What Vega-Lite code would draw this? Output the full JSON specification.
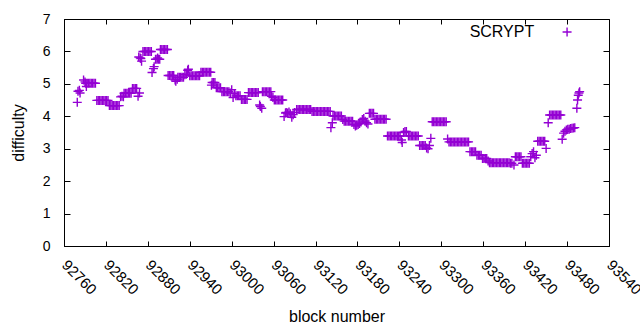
{
  "$schema": "https://vega.github.io/schema/vega-lite/v6.json",
  "width": 545,
  "height": 227,
  "autosize": {"type": "none"},
  "padding": {"left": 64, "top": 19, "right": 31, "bottom": 84},
  "background": "white",
  "config": {
    "view": {"stroke": "black", "strokeWidth": 1},
    "font": "Liberation Sans",
    "axis": {
      "domainColor": "black", "tickColor": "black", "labelColor": "black", "titleColor": "black",
      "grid": false, "labelFont": "Liberation Sans", "titleFont": "Liberation Sans",
      "titleFontWeight": "normal", "labelFontSize": 14, "titleFontSize": 16,
      "labelOverlap": false, "labelFlush": false, "labelBound": false
    }
  },
  "datasets": {
    "scrypt": [
      {"block":92779,"difficulty":4.43},{"block":92780,"difficulty":4.77},{"block":92782,"difficulty":4.8},{"block":92783,"difficulty":4.72},
      {"block":92788,"difficulty":5.12},{"block":92790,"difficulty":5.06},{"block":92792,"difficulty":4.92},
      {"block":92791,"difficulty":5.02},{"block":92793,"difficulty":5.02},{"block":92795,"difficulty":5.02},{"block":92797,"difficulty":5.02},{"block":92799,"difficulty":5.02},{"block":92801,"difficulty":5.02},{"block":92803,"difficulty":5.02},{"block":92805,"difficulty":5.02},
      {"block":92807,"difficulty":4.49},{"block":92809,"difficulty":4.49},{"block":92811,"difficulty":4.49},{"block":92813,"difficulty":4.49},{"block":92815,"difficulty":4.49},{"block":92817,"difficulty":4.49},{"block":92819,"difficulty":4.49},{"block":92821,"difficulty":4.49},{"block":92823,"difficulty":4.49},
      {"block":92825,"difficulty":4.33},{"block":92827,"difficulty":4.33},{"block":92829,"difficulty":4.33},{"block":92831,"difficulty":4.33},{"block":92833,"difficulty":4.33},{"block":92835,"difficulty":4.33},{"block":92837,"difficulty":4.33},{"block":92839,"difficulty":4.33},
      {"block":92841,"difficulty":4.6},{"block":92843,"difficulty":4.62},{"block":92845,"difficulty":4.6},
      {"block":92846,"difficulty":4.71},{"block":92848,"difficulty":4.71},{"block":92850,"difficulty":4.71},{"block":92852,"difficulty":4.71},{"block":92854,"difficulty":4.71},{"block":92856,"difficulty":4.71},
      {"block":92858,"difficulty":4.86},{"block":92860,"difficulty":4.86},{"block":92862,"difficulty":4.86},{"block":92864,"difficulty":4.86},
      {"block":92866,"difficulty":4.62},{"block":92868,"difficulty":4.72},
      {"block":92867,"difficulty":5.83},{"block":92869,"difficulty":5.8},{"block":92870,"difficulty":5.78},{"block":92871,"difficulty":5.7},
      {"block":92873,"difficulty":6.0},{"block":92875,"difficulty":6.0},{"block":92877,"difficulty":6.0},{"block":92879,"difficulty":6.0},{"block":92881,"difficulty":6.0},{"block":92883,"difficulty":6.0},{"block":92885,"difficulty":6.0},
      {"block":92886,"difficulty":5.35},{"block":92888,"difficulty":5.47},{"block":92889,"difficulty":5.53},
      {"block":92891,"difficulty":5.76},{"block":92893,"difficulty":5.76},{"block":92894,"difficulty":5.8},{"block":92895,"difficulty":5.76},{"block":92897,"difficulty":5.76},
      {"block":92898,"difficulty":6.06},{"block":92900,"difficulty":6.06},{"block":92902,"difficulty":6.06},{"block":92904,"difficulty":6.06},{"block":92906,"difficulty":6.06},{"block":92908,"difficulty":6.06},
      {"block":92909,"difficulty":5.26},{"block":92911,"difficulty":5.26},{"block":92913,"difficulty":5.26},{"block":92915,"difficulty":5.26},{"block":92917,"difficulty":5.26},
      {"block":92919,"difficulty":5.12},{"block":92920,"difficulty":5.08},{"block":92922,"difficulty":5.14},
      {"block":92923,"difficulty":5.2},{"block":92925,"difficulty":5.2},{"block":92927,"difficulty":5.2},{"block":92929,"difficulty":5.2},{"block":92931,"difficulty":5.2},
      {"block":92933,"difficulty":5.28},{"block":92935,"difficulty":5.3},{"block":92937,"difficulty":5.42},{"block":92938,"difficulty":5.45},
      {"block":92940,"difficulty":5.25},{"block":92942,"difficulty":5.25},{"block":92944,"difficulty":5.25},{"block":92946,"difficulty":5.25},{"block":92948,"difficulty":5.25},{"block":92950,"difficulty":5.25},{"block":92952,"difficulty":5.25},{"block":92954,"difficulty":5.25},
      {"block":92956,"difficulty":5.36},{"block":92958,"difficulty":5.36},{"block":92960,"difficulty":5.36},{"block":92962,"difficulty":5.36},{"block":92964,"difficulty":5.36},{"block":92966,"difficulty":5.36},{"block":92968,"difficulty":5.36},{"block":92970,"difficulty":5.36},
      {"block":92971,"difficulty":4.96},{"block":92972,"difficulty":5.04},{"block":92974,"difficulty":5.04},{"block":92976,"difficulty":5.04},
      {"block":92978,"difficulty":4.88},{"block":92980,"difficulty":4.88},{"block":92982,"difficulty":4.88},{"block":92984,"difficulty":4.88},
      {"block":92986,"difficulty":4.76},{"block":92988,"difficulty":4.76},{"block":92990,"difficulty":4.76},{"block":92992,"difficulty":4.76},{"block":92994,"difficulty":4.76},{"block":92996,"difficulty":4.76},
      {"block":92998,"difficulty":4.72},{"block":93000,"difficulty":4.82},{"block":93002,"difficulty":4.58},{"block":93004,"difficulty":4.7},
      {"block":93006,"difficulty":4.63},{"block":93008,"difficulty":4.63},{"block":93010,"difficulty":4.63},{"block":93012,"difficulty":4.63},
      {"block":93014,"difficulty":4.52},{"block":93016,"difficulty":4.52},{"block":93018,"difficulty":4.52},{"block":93020,"difficulty":4.52},{"block":93022,"difficulty":4.52},
      {"block":93024,"difficulty":4.73},{"block":93026,"difficulty":4.73},{"block":93028,"difficulty":4.73},{"block":93030,"difficulty":4.73},{"block":93032,"difficulty":4.73},{"block":93034,"difficulty":4.73},{"block":93036,"difficulty":4.73},{"block":93038,"difficulty":4.73},
      {"block":93040,"difficulty":4.35},{"block":93041,"difficulty":4.3},{"block":93043,"difficulty":4.25},
      {"block":93044,"difficulty":4.76},{"block":93046,"difficulty":4.76},{"block":93048,"difficulty":4.76},{"block":93050,"difficulty":4.76},{"block":93052,"difficulty":4.76},{"block":93054,"difficulty":4.76},{"block":93056,"difficulty":4.76},
      {"block":93057,"difficulty":4.62},{"block":93059,"difficulty":4.58},
      {"block":93061,"difficulty":4.5},{"block":93063,"difficulty":4.5},{"block":93065,"difficulty":4.5},{"block":93067,"difficulty":4.5},{"block":93069,"difficulty":4.5},{"block":93071,"difficulty":4.5},{"block":93073,"difficulty":4.5},
      {"block":93075,"difficulty":3.99},{"block":93077,"difficulty":4.1},{"block":93078,"difficulty":4.12},{"block":93080,"difficulty":4.1},{"block":93082,"difficulty":4.13},{"block":93084,"difficulty":4.08},{"block":93086,"difficulty":3.97},{"block":93088,"difficulty":4.05},{"block":93090,"difficulty":4.12},
      {"block":93093,"difficulty":4.21},{"block":93095,"difficulty":4.21},{"block":93097,"difficulty":4.21},{"block":93099,"difficulty":4.21},{"block":93101,"difficulty":4.21},{"block":93103,"difficulty":4.21},{"block":93105,"difficulty":4.21},{"block":93107,"difficulty":4.21},{"block":93109,"difficulty":4.21},{"block":93111,"difficulty":4.21},{"block":93113,"difficulty":4.21},
      {"block":93115,"difficulty":4.15},{"block":93117,"difficulty":4.15},{"block":93119,"difficulty":4.15},{"block":93121,"difficulty":4.15},{"block":93123,"difficulty":4.15},{"block":93125,"difficulty":4.15},{"block":93127,"difficulty":4.15},{"block":93129,"difficulty":4.15},{"block":93131,"difficulty":4.15},{"block":93133,"difficulty":4.15},{"block":93135,"difficulty":4.15},{"block":93137,"difficulty":4.15},{"block":93139,"difficulty":4.15},{"block":93141,"difficulty":4.15},
      {"block":93142,"difficulty":3.65},{"block":93144,"difficulty":3.8},
      {"block":93145,"difficulty":4.01},{"block":93147,"difficulty":4.01},{"block":93149,"difficulty":4.01},{"block":93151,"difficulty":4.01},{"block":93153,"difficulty":4.01},{"block":93155,"difficulty":4.01},{"block":93157,"difficulty":4.01},
      {"block":93159,"difficulty":3.9},{"block":93161,"difficulty":3.85},{"block":93163,"difficulty":3.85},{"block":93165,"difficulty":3.85},{"block":93167,"difficulty":3.85},{"block":93169,"difficulty":3.85},{"block":93171,"difficulty":3.85},{"block":93173,"difficulty":3.85},
      {"block":93175,"difficulty":3.75},{"block":93177,"difficulty":3.7},{"block":93179,"difficulty":3.72},{"block":93181,"difficulty":3.75},{"block":93183,"difficulty":3.78},{"block":93185,"difficulty":3.82},{"block":93187,"difficulty":3.9},{"block":93189,"difficulty":3.93},{"block":93191,"difficulty":3.85},{"block":93193,"difficulty":3.8},{"block":93195,"difficulty":3.76},
      {"block":93197,"difficulty":4.09},{"block":93199,"difficulty":4.09},{"block":93201,"difficulty":4.09},{"block":93203,"difficulty":4.09},
      {"block":93205,"difficulty":3.91},{"block":93207,"difficulty":3.91},{"block":93209,"difficulty":3.91},{"block":93211,"difficulty":3.91},{"block":93213,"difficulty":3.91},{"block":93215,"difficulty":3.91},{"block":93217,"difficulty":3.91},{"block":93219,"difficulty":3.91},{"block":93221,"difficulty":3.91},
      {"block":93223,"difficulty":3.39},{"block":93225,"difficulty":3.39},{"block":93227,"difficulty":3.39},{"block":93229,"difficulty":3.39},{"block":93231,"difficulty":3.39},{"block":93233,"difficulty":3.39},{"block":93235,"difficulty":3.39},{"block":93237,"difficulty":3.39},{"block":93239,"difficulty":3.39},{"block":93241,"difficulty":3.39},
      {"block":93243,"difficulty":3.27},{"block":93244,"difficulty":3.19},{"block":93246,"difficulty":3.5},{"block":93248,"difficulty":3.53},{"block":93250,"difficulty":3.53},
      {"block":93253,"difficulty":3.39},{"block":93255,"difficulty":3.39},{"block":93257,"difficulty":3.39},{"block":93259,"difficulty":3.39},{"block":93261,"difficulty":3.39},{"block":93263,"difficulty":3.39},{"block":93265,"difficulty":3.39},{"block":93267,"difficulty":3.39},
      {"block":93269,"difficulty":3.1},{"block":93271,"difficulty":3.1},{"block":93273,"difficulty":3.1},{"block":93275,"difficulty":3.1},{"block":93277,"difficulty":3.1},{"block":93279,"difficulty":3.02},{"block":93281,"difficulty":3.0},{"block":93283,"difficulty":3.1},
      {"block":93285,"difficulty":3.32},
      {"block":93287,"difficulty":3.83},{"block":93289,"difficulty":3.83},{"block":93291,"difficulty":3.83},{"block":93293,"difficulty":3.83},{"block":93295,"difficulty":3.83},{"block":93297,"difficulty":3.83},{"block":93299,"difficulty":3.83},{"block":93301,"difficulty":3.83},{"block":93303,"difficulty":3.83},{"block":93305,"difficulty":3.83},{"block":93307,"difficulty":3.83},
      {"block":93309,"difficulty":3.3},
      {"block":93311,"difficulty":3.21},{"block":93313,"difficulty":3.21},{"block":93315,"difficulty":3.21},{"block":93317,"difficulty":3.21},{"block":93319,"difficulty":3.21},{"block":93321,"difficulty":3.21},{"block":93323,"difficulty":3.21},{"block":93325,"difficulty":3.21},{"block":93327,"difficulty":3.21},{"block":93329,"difficulty":3.21},{"block":93331,"difficulty":3.21},{"block":93333,"difficulty":3.21},{"block":93335,"difficulty":3.21},{"block":93337,"difficulty":3.21},{"block":93339,"difficulty":3.21},
      {"block":93341,"difficulty":2.91},{"block":93343,"difficulty":2.91},{"block":93345,"difficulty":2.91},{"block":93347,"difficulty":2.91},{"block":93349,"difficulty":2.91},
      {"block":93351,"difficulty":2.8},{"block":93353,"difficulty":2.8},{"block":93355,"difficulty":2.8},{"block":93357,"difficulty":2.8},
      {"block":93359,"difficulty":2.7},{"block":93361,"difficulty":2.7},{"block":93363,"difficulty":2.7},{"block":93365,"difficulty":2.7},{"block":93367,"difficulty":2.62},
      {"block":93369,"difficulty":2.57},{"block":93371,"difficulty":2.57},{"block":93373,"difficulty":2.57},{"block":93375,"difficulty":2.57},{"block":93377,"difficulty":2.57},{"block":93379,"difficulty":2.57},{"block":93381,"difficulty":2.57},{"block":93383,"difficulty":2.57},{"block":93385,"difficulty":2.57},{"block":93387,"difficulty":2.57},{"block":93389,"difficulty":2.57},{"block":93391,"difficulty":2.57},{"block":93393,"difficulty":2.57},{"block":93395,"difficulty":2.57},{"block":93397,"difficulty":2.57},
      {"block":93399,"difficulty":2.55},{"block":93401,"difficulty":2.55},{"block":93404,"difficulty":2.5},
      {"block":93406,"difficulty":2.75},{"block":93408,"difficulty":2.75},{"block":93410,"difficulty":2.75},{"block":93412,"difficulty":2.75},{"block":93414,"difficulty":2.75},
      {"block":93416,"difficulty":2.55},{"block":93418,"difficulty":2.55},{"block":93420,"difficulty":2.55},{"block":93422,"difficulty":2.55},{"block":93424,"difficulty":2.55},{"block":93426,"difficulty":2.55},
      {"block":93428,"difficulty":2.75},{"block":93430,"difficulty":2.85},{"block":93432,"difficulty":2.91},{"block":93434,"difficulty":2.72},{"block":93436,"difficulty":2.8},
      {"block":93438,"difficulty":3.23},{"block":93440,"difficulty":3.23},{"block":93442,"difficulty":3.23},{"block":93444,"difficulty":3.23},{"block":93446,"difficulty":3.23},{"block":93448,"difficulty":3.23},
      {"block":93450,"difficulty":3.01},{"block":93453,"difficulty":3.8},
      {"block":93455,"difficulty":4.04},{"block":93457,"difficulty":4.04},{"block":93459,"difficulty":4.04},{"block":93461,"difficulty":4.04},{"block":93463,"difficulty":4.04},{"block":93465,"difficulty":4.04},{"block":93467,"difficulty":4.04},{"block":93469,"difficulty":4.04},{"block":93471,"difficulty":4.04},
      {"block":93473,"difficulty":3.29},
      {"block":93475,"difficulty":3.48},{"block":93477,"difficulty":3.54},{"block":93479,"difficulty":3.58},{"block":93481,"difficulty":3.6},{"block":93483,"difficulty":3.6},{"block":93485,"difficulty":3.62},{"block":93487,"difficulty":3.63},{"block":93489,"difficulty":3.64},{"block":93491,"difficulty":3.65},
      {"block":93494,"difficulty":4.25},{"block":93495,"difficulty":4.5},{"block":93496,"difficulty":4.65},{"block":93497,"difficulty":4.72},{"block":93498,"difficulty":4.76}
    ],
    "key": [{"label": "SCRYPT"}]
  },
  "layer": [
    {
      "data": {"name": "scrypt"},
      "mark": {"type": "point", "shape": "M-1,0L1,0M0,-1L0,1", "size": 81, "filled": false, "color": "#9400d3", "strokeWidth": 1.4, "opacity": 1},
      "encoding": {
        "x": {
          "field": "block", "type": "quantitative",
          "scale": {"domain": [92760, 93540], "nice": false, "zero": false},
          "axis": {
            "orient": "bottom", "format": "d",
            "values": [92760, 92820, 92880, 92940, 93000, 93060, 93120, 93180, 93240, 93300, 93360, 93420, 93480, 93540],
            "labelAngle": 45, "labelAlign": "left", "labelBaseline": "middle", "labelFontSize": 15,
            "tickSize": -5, "labelPadding": 21,
            "title": "block number", "titlePadding": 11
          }
        },
        "y": {
          "field": "difficulty", "type": "quantitative",
          "scale": {"domain": [0, 7], "nice": false, "zero": true},
          "axis": {
            "orient": "left", "format": "d",
            "values": [0, 1, 2, 3, 4, 5, 6, 7],
            "tickSize": -6, "labelPadding": 20,
            "title": "difficulty", "titlePadding": 16
          }
        }
      }
    },
    {
      "data": {"name": "key"},
      "mark": {"type": "text", "align": "right", "baseline": "middle", "fontSize": 16, "font": "Liberation Sans", "color": "black"},
      "encoding": {
        "x": {
          "datum": 93433, "type": "quantitative",
          "axis": {
            "orient": "top", "labels": false, "title": null, "domain": false, "tickSize": -5,
            "values": [92760, 92820, 92880, 92940, 93000, 93060, 93120, 93180, 93240, 93300, 93360, 93420, 93480, 93540]
          }
        },
        "y": {
          "datum": 6.6, "type": "quantitative",
          "axis": {"orient": "right", "labels": false, "title": null, "domain": false, "tickSize": -6, "values": [0, 1, 2, 3, 4, 5, 6, 7]}
        },
        "text": {"field": "label"}
      }
    },
    {
      "data": {"name": "key"},
      "mark": {"type": "point", "shape": "M-1,0L1,0M0,-1L0,1", "size": 81, "filled": false, "color": "#9400d3", "strokeWidth": 1.4, "opacity": 1},
      "encoding": {
        "x": {"datum": 93480, "type": "quantitative", "axis": null},
        "y": {"datum": 6.6, "type": "quantitative", "axis": null}
      }
    }
  ],
  "resolve": {"axis": {"x": "independent", "y": "independent"}}
}
